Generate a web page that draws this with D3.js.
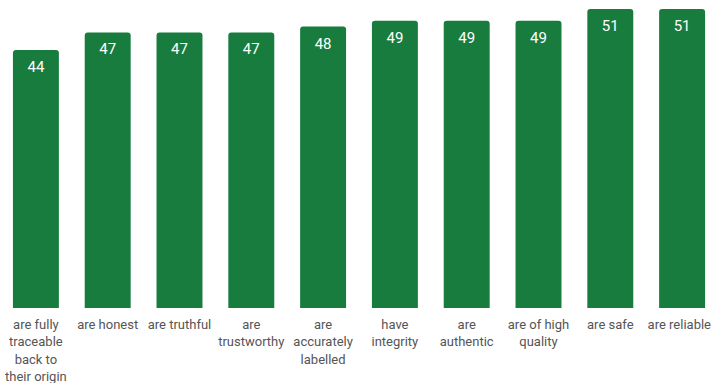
<!DOCTYPE html>
<html><head><meta charset="utf-8">
<script src="https://cdn.jsdelivr.net/npm/d3@7"></script>
<style>body{margin:0;background:#fff;}svg{display:block;}</style>
</head><body><svg id="c" width="712" height="383"></svg>
<script>
const categories = ["are fully\ntraceable\nback to\ntheir origin","are honest","are truthful","are\ntrustworthy","are\naccurately\nlabelled","have\nintegrity","are\nauthentic","are of high\nquality","are safe","are reliable"];
const values = [44,47,47,47,48,49,49,49,51,51];

const W = 712;
const svg = d3.select("#c");
const x = d3.scaleBand().domain(d3.range(categories.length)).range([0,718]).paddingInner(0.36).paddingOuter(0.18);
const y = d3.scaleLinear().domain([0,51]).range([308,9]);
const color = "#177c3e";
const r = 3;

function barPath(x0,y0,w,h){
  return `M${x0},${y0+h}V${y0+r}Q${x0},${y0} ${x0+r},${y0}H${x0+w-r}Q${x0+w},${y0} ${x0+w},${y0+r}V${y0+h}Z`;
}
svg.selectAll("path.bar").data(values).join("path").attr("class","bar")
  .attr("fill",color)
  .attr("d",(d,i)=>barPath(x(i),y(d),x.bandwidth(),y(0)-y(d)));

svg.selectAll("text.val").data(values).join("text").attr("class","val")
  .attr("x",(d,i)=>x(i)+x.bandwidth()/2).attr("y",d=>y(d)+22)
  .attr("text-anchor","middle").attr("fill","#fff")
  .style("font-family","Roboto, sans-serif").style("font-size","15px")
  .text(d=>d);

const lab = svg.selectAll("text.cat").data(categories).join("text").attr("class","cat")
  .attr("text-anchor","middle").attr("fill","#555")
  .style("font-family","Roboto, sans-serif").style("font-size","13px");
lab.each(function(d,i){
  const t = d3.select(this);
  const lines = d.split("\n");
  lines.forEach((ln,j)=>{
    t.append("tspan").attr("y",329+j*17.3).text(ln);
  });
  let cx = x(i)+x.bandwidth()/2;
  t.selectAll("tspan").each(function(){
    const hw = this.getComputedTextLength()/2;
    let px = Math.min(cx, W - hw - 1);
    px = Math.max(px, hw + 1);
    d3.select(this).attr("x", px);
  });
});
</script></body></html>
